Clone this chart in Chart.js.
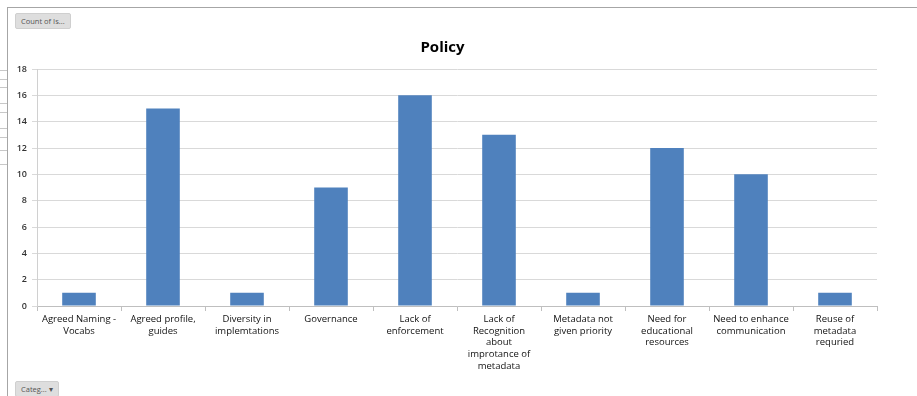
<!DOCTYPE html>
<html>
<head>
<meta charset="utf-8">
<script src="https://cdn.jsdelivr.net/npm/chart.js@4"></script>
<style>
  body { margin: 0; background: #fff; width: 917px; height: 396px; overflow: hidden; position: relative; font-family: "Open Sans", "Liberation Sans", sans-serif; }
  #frame { position: absolute; left: 7px; top: 7px; right: 0; bottom: 0; border-left: 1px solid #a6a6a6; border-top: 1px solid #a6a6a6; }
  .row { position: absolute; left: 0; width: 7px; height: 1px; background: #c8c8c8; }
  .btn { position: absolute; background: #dedede; border: 1px solid #cfcfcf; border-radius: 2px; font-size: 7.5px; color: #555; padding: 2px 5px; }
  #wrap { position: absolute; left: 8px; top: 8px; width: 909px; height: 388px; }
</style>
</head>
<body>
<div id="frame"></div>
<div class="row" style="top:70px"></div>
<div class="row" style="top:79px"></div>
<div class="row" style="top:87px"></div>
<div class="row" style="top:103px"></div>
<div class="row" style="top:112px"></div>
<div class="row" style="top:128px"></div>
<div class="row" style="top:137px"></div>
<div class="row" style="top:150px"></div>
<div class="row" style="top:164px"></div>
<div class="btn" style="left:15px;top:13px;">Count of Is...</div>
<div class="btn" style="left:15px;top:381px;">Categ... &#9662;</div>
<div id="wrap"><canvas id="chart"></canvas></div>
<script>
const categories = [
  ["Agreed Naming -", "Vocabs"],
  ["Agreed profile,", "guides"],
  ["Diversity in", "implemtations"],
  ["Governance"],
  ["Lack of", "enforcement"],
  ["Lack of", "Recognition", "about", "improtance of", "metadata"],
  ["Metadata not", "given priority"],
  ["Need for", "educational", "resources"],
  ["Need to enhance", "communication"],
  ["Reuse of", "metadata", "requried"]
];
const counts = [1, 15, 1, 9, 16, 13, 1, 12, 10, 1];
const yTicks = [0, 2, 4, 6, 8, 10, 12, 14, 16, 18];

const textColor = "#333";

new Chart(document.getElementById("chart"), {
  type: "bar",
  data: {
    labels: categories,
    datasets: [{
      label: "Total",
      data: counts,
      backgroundColor: "#4f81bd",
      categoryPercentage: 1,
      barPercentage: 0.4
    }]
  },
  options: {
    responsive: true,
    maintainAspectRatio: false,
    animation: false,
    layout: { padding: { top: 31, right: 40, left: 0, bottom: 0 } },
    plugins: {
      legend: { display: false },
      tooltip: { enabled: false },
      title: {
        display: true,
        text: "Policy",
        color: "#000",
        font: { family: "Open Sans", size: 15, weight: "bold" },
        padding: { top: 0, bottom: 12 }
      }
    },
    scales: {
      x: {
        afterFit: (s) => { s.height = 90; },
        grid: { offset: true, drawOnChartArea: false, color: "#bfbfbf", tickLength: 5 },
        border: { color: "#bfbfbf" },
        ticks: {
          color: "#111",
          font: { family: "Open Sans", size: 9.5, lineHeight: 1.25 },
          maxRotation: 0,
          autoSkip: false,
          padding: 2
        }
      },
      y: {
        min: 0,
        max: 18,
        afterFit: (s) => { s.width = 29; },
        afterBuildTicks: (s) => { s.ticks = yTicks.map(v => ({ value: v })); },
        grid: { color: "#d9d9d9", tickLength: 5 },
        border: { color: "#d0d0d0" },
        ticks: {
          color: textColor,
          font: { family: "Open Sans", size: 9, weight: "600" },
          padding: 5
        }
      }
    }
  }
});
</script>
</body>
</html>
